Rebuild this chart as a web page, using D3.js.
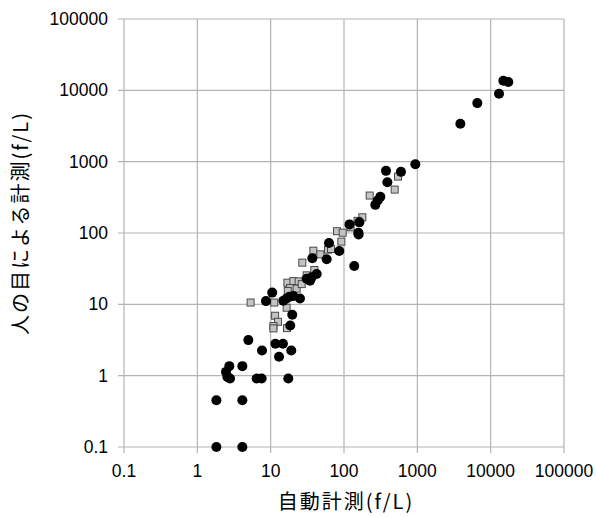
<!DOCTYPE html>
<html>
<head>
<meta charset="utf-8">
<script src="https://cdn.jsdelivr.net/npm/d3@7"></script>
<style>
    body { margin: 0; background: #fff; }
    .tick-label { font-family: "Liberation Sans", Arial, sans-serif; font-size: 17.5px; fill: #000; }
    .axis-title { font-family: "Noto Sans CJK JP", sans-serif; font-size: 20px; letter-spacing: 2px; fill: #000; }
</style>
</head>
<body>
<svg id="chart" width="596" height="517"></svg>
<script>
const tickValues = [0.1, 1, 10, 100, 1000, 10000, 100000];
const tickLabels = ["0.1", "1", "10", "100", "1000", "10000", "100000"];

// 自動計測 / 人の目 (circles)
const circleX = [14900, 17400, 13000, 6580, 3860, 939, 374, 598, 390, 313, 288, 267,
    119, 162, 157, 158, 62.4, 86.3, 37, 58, 138, 42.4, 36.2, 31, 34.4,
    10.5, 8.63, 14.9, 18, 20.4, 25.1, 16.5, 19.7, 18.5, 4.96, 11.6, 14.7, 7.62, 19.1, 13,
    2.73, 2.46, 2.57, 2.79, 4.11, 6.44, 7.53, 17.4, 1.82, 4.11, 1.82, 4.11];
const circleY = [13600, 13060, 8950, 6620, 3400, 920, 743, 720, 515, 321, 285, 248,
    132, 141, 101, 95, 72.4, 56, 44.2, 42.8, 34.5, 26.6, 23.9, 22.9, 21.4,
    14.6, 11.1, 11.2, 12.8, 13.1, 12.1, 12.1, 7.15, 5.06, 3.15, 2.8, 2.8, 2.25, 2.25, 1.84,
    1.36, 1.13, 0.96, 0.91, 1.36, 0.91, 0.91, 0.91, 0.453, 0.453, 0.1, 0.1];

// squares
const squareX = [545, 491, 224, 178, 153, 123, 80.3, 96, 92, 60.5, 66.5, 38.2, 47.6, 27, 39.4, 31,
    16.9, 20.4, 24.1, 18.4, 22.6, 26.5, 5.33, 11.2, 16.5, 11.5, 12.6, 10.9, 10.9, 16.7, 17.1];
const squareY = [618, 406, 335, 166, 148, 120, 106, 101, 75.7, 58.4, 59.7, 56.5, 50.2, 38.4, 30.3, 25.5,
    20.1, 21.2, 21, 16.9, 16.6, 19.2, 10.6, 10.6, 8.96, 6.92, 5.7, 4.96, 4.6, 4.64, 15.4];

const plotLeft = 124, plotRight = 564, plotTop = 19, plotBottom = 447;
const svg = d3.select("#chart");

const x = d3.scaleLog().domain([0.1, 100000]).range([plotLeft, plotRight]);
const y = d3.scaleLog().domain([0.1, 100000]).range([plotBottom, plotTop]);
const gridColor = "#b4b4b4";

// grid
svg.append("g").selectAll("line").data(tickValues).enter().append("line")
    .attr("x1", (d) => x(d)).attr("x2", (d) => x(d))
    .attr("y1", plotTop).attr("y2", plotBottom + 6)
    .attr("stroke", gridColor).attr("stroke-width", 1.2);
svg.append("g").selectAll("line").data(tickValues).enter().append("line")
    .attr("x1", plotLeft - 6).attr("x2", plotRight)
    .attr("y1", (d) => y(d)).attr("y2", (d) => y(d))
    .attr("stroke", gridColor).attr("stroke-width", 1.2);

// tick labels
svg.append("g").selectAll("text").data(tickValues).enter().append("text")
    .attr("class", "tick-label")
    .attr("x", plotLeft - 16).attr("y", (d) => y(d)).attr("dy", "0.35em")
    .attr("text-anchor", "end")
    .text((d, i) => tickLabels[i]);
svg.append("g").selectAll("text").data(tickValues).enter().append("text")
    .attr("class", "tick-label")
    .attr("x", (d) => x(d)).attr("y", 477)
    .attr("text-anchor", "middle")
    .text((d, i) => tickLabels[i]);

// squares
svg.append("g").selectAll("rect").data(squareX).enter().append("rect")
    .attr("x", (d) => x(d) - 3.5)
    .attr("y", (d, i) => y(squareY[i]) - 3.5)
    .attr("width", 7).attr("height", 7)
    .attr("fill", "#c4c4c4").attr("stroke", "#4a4a4a").attr("stroke-width", 1);

// circles
svg.append("g").selectAll("circle").data(circleX).enter().append("circle")
    .attr("cx", (d) => x(d))
    .attr("cy", (d, i) => y(circleY[i]))
    .attr("r", 5)
    .attr("fill", "#000");

// axis titles
svg.append("text").attr("class", "axis-title")
    .attr("x", 346).attr("y", 509)
    .attr("text-anchor", "middle")
    .text("自動計測(f/L)");
svg.append("text").attr("class", "axis-title")
    .attr("transform", "translate(28,223) rotate(-90)")
    .attr("text-anchor", "middle")
    .text("人の目による計測(f/L)");
</script>
</body>
</html>
